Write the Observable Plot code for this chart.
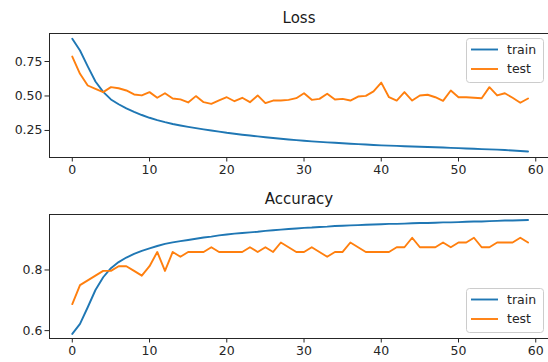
<!DOCTYPE html>
<html><head><meta charset="utf-8">
<script src="https://cdn.jsdelivr.net/npm/d3@7"></script>
<script src="https://cdn.jsdelivr.net/npm/@observablehq/plot@0.6"></script>
<style>
body{margin:0;background:#fff;}
#wrap{position:relative;width:548px;height:362px;overflow:hidden;font-family:"DejaVu Sans",sans-serif;}
#plots{position:absolute;left:0;top:0;z-index:1;}
#plots svg{display:block;}
.leg{position:absolute;z-index:2;}
</style></head><body><div id="wrap"><div id="plots"></div></div>
<script>
// ---- data ----
const seriesNames = ["train", "test"];
const xTicks = [0, 10, 20, 30, 40, 50, 60];
const lossTicks = [0.25, 0.50, 0.75];
const accTicks = [0.6, 0.8];

const trainLoss = [0.915,0.83,0.715,0.605,0.53,0.475,0.44,0.41,0.385,0.362,
  0.342,0.325,0.31,0.297,0.286,0.276,0.267,0.258,0.25,0.242,
  0.233,0.226,0.219,0.213,0.207,0.201,0.195,0.19,0.185,0.18,
  0.175,0.171,0.167,0.164,0.161,0.157,0.154,0.151,0.148,0.145,
  0.142,0.14,0.138,0.136,0.134,0.132,0.13,0.128,0.126,0.124,
  0.122,0.119,0.117,0.115,0.113,0.111,0.108,0.105,0.101,0.098];
const testLoss = [0.786,0.661,0.576,0.552,0.528,0.564,0.556,0.54,0.511,0.504,
  0.528,0.487,0.52,0.482,0.475,0.453,0.499,0.455,0.443,0.468,
  0.491,0.462,0.487,0.455,0.504,0.448,0.467,0.467,0.472,0.484,
  0.52,0.472,0.479,0.516,0.475,0.479,0.467,0.496,0.501,0.533,
  0.597,0.491,0.467,0.528,0.467,0.504,0.509,0.491,0.465,0.54,
  0.491,0.491,0.487,0.484,0.564,0.504,0.52,0.487,0.451,0.482];
const trainAcc = [0.589,0.622,0.677,0.734,0.776,0.806,0.826,0.841,0.853,0.863,
  0.871,0.879,0.886,0.891,0.895,0.899,0.903,0.907,0.91,0.914,
  0.917,0.92,0.922,0.924,0.926,0.929,0.931,0.933,0.935,0.937,
  0.939,0.94,0.942,0.943,0.945,0.946,0.947,0.948,0.949,0.95,
  0.951,0.952,0.952,0.953,0.954,0.955,0.955,0.956,0.957,0.957,
  0.958,0.959,0.96,0.96,0.961,0.962,0.963,0.963,0.964,0.965];
const testAcc = [0.6875,0.75,0.7656,0.7813,0.7969,0.7969,0.8125,0.8125,0.7969,0.7813,
  0.8125,0.8594,0.7969,0.8594,0.8438,0.8594,0.8594,0.8594,0.875,0.8594,
  0.8594,0.8594,0.8594,0.875,0.8594,0.875,0.8594,0.8906,0.875,0.8594,
  0.8594,0.875,0.8594,0.8438,0.8594,0.8594,0.8906,0.875,0.8594,0.8594,
  0.8594,0.8594,0.875,0.875,0.9063,0.875,0.875,0.875,0.8906,0.875,
  0.8906,0.8906,0.9063,0.875,0.875,0.8906,0.8906,0.8906,0.9063,0.8906];

const colors = ["#1f77b4", "#ff7f0e"];
const xDomain = [-2.95, 61.65];

function panel(title, train, test, yDomain, yTicks, yFmt) {
  const rows = [
    ...train.map((v, i) => ({epoch: i, v, s: seriesNames[0]})),
    ...test.map((v, i) => ({epoch: i, v, s: seriesNames[1]}))
  ];
  return Plot.plot({
    width: 548, height: 181,
    marginTop: 33, marginBottom: 24, marginLeft: 49, marginRight: 0,
    style: {fontFamily: "DejaVu Sans", fontSize: "12.5px", color: "#262626", background: "transparent", overflow: "visible"},
    x: {domain: xDomain, ticks: xTicks, tickSize: 4.5, tickPadding: 3, tickFormat: d => String(d), label: null},
    y: {domain: yDomain, ticks: yTicks, tickSize: 4.5, tickPadding: 2.5, tickFormat: d3.format(yFmt), label: null},
    color: {domain: seriesNames, range: colors},
    marks: [
      Plot.line(rows, {x: "epoch", y: "v", stroke: "s", strokeWidth: 1.9}),
      Plot.ruleY([yDomain[1]], {stroke: "#262626", strokeWidth: 1}),
      Plot.ruleY([yDomain[0]], {stroke: "#262626", strokeWidth: 1}),
      Plot.ruleX([xDomain[0]], {stroke: "#262626", strokeWidth: 1}),
      Plot.text([title], {frameAnchor: "top", dy: -11, lineAnchor: "bottom", fontSize: 15, fill: "#1a1a1a"})
    ]
  });
}

const plots = document.getElementById("plots");
plots.append(panel("Loss", trainLoss, testLoss, [0.054, 0.953], lossTicks, ".2f"));
plots.append(panel("Accuracy", trainAcc, testAcc, [0.574, 0.983], accTicks, ".1f"));

// legends
function legend(top) {
  const svg = d3.create("svg").attr("class", "leg").attr("width", 78).attr("height", 45)
    .style("left", "466px").style("top", top + "px");
  svg.append("rect").attr("x", 0.5).attr("y", 0.5).attr("width", 77).attr("height", 44).attr("rx", 3)
    .attr("fill", "rgba(255,255,255,0.8)").attr("stroke", "#cccccc");
  seriesNames.forEach((name, i) => {
    const cy = 11.5 + i * 19.5;
    svg.append("line").attr("x1", 5).attr("x2", 32).attr("y1", cy).attr("y2", cy)
      .attr("stroke", colors[i]).attr("stroke-width", 1.9);
    svg.append("text").attr("x", 41).attr("y", cy).attr("dy", "0.35em")
      .attr("font-family", "DejaVu Sans").attr("font-size", 12.5).attr("fill", "#262626").text(name);
  });
  document.getElementById("wrap").append(svg.node());
}
legend(38);
legend(288);
</script></body></html>
